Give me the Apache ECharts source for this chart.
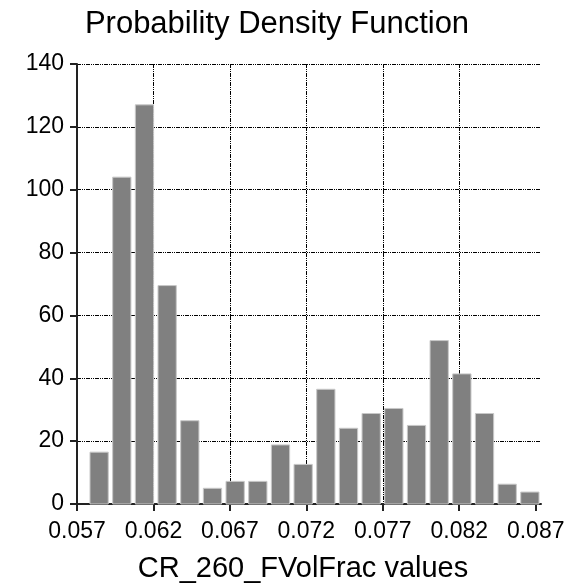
<!DOCTYPE html>
<html>
<head>
<meta charset="utf-8">
<script src="https://cdn.jsdelivr.net/npm/echarts@6/dist/echarts.min.js"></script>
<style>
  html, body { margin: 0; padding: 0; background: #fff; }
  #chart { width: 580px; height: 585px; }
</style>
</head>
<body>
<div id="chart"></div>
<script>
// Histogram data
const binStart = 0.057706;
const binWidth = 0.0014827;
const counts = [16.5, 104, 127, 69.5, 26.5, 5, 7.2, 7.2, 18.8, 12.6,
                36.5, 24.1, 28.8, 30.4, 25.0, 52.0, 41.4, 28.8, 6.3, 3.8];
const xTicks = [0.057, 0.062, 0.067, 0.072, 0.077, 0.082, 0.087];
const yTicks = [0, 20, 40, 60, 80, 100, 120, 140];
const xMin = 0.057, xMax = 0.087347;

const bins = counts.map((c, i) => [binStart + i * binWidth, binStart + (i + 1) * binWidth, c]);

const gridLine = { show: true, lineStyle: { color: '#000', width: 1, type: [4, 1, 1, 1, 1, 1] } };
const FONT = 'Liberation Sans, Arial, sans-serif';

const chart = echarts.init(document.getElementById('chart'), null, { renderer: 'canvas' });
chart.setOption({
  animation: false,
  backgroundColor: '#fff',
  title: {
    text: 'Probability Density Function',
    left: 272, textAlign: 'center', top: 4,
    textStyle: { fontFamily: FONT, fontSize: 31, fontWeight: 'normal', color: '#000' }
  },
  grid: { left: 77, right: 39, top: 64, bottom: 81, containLabel: false, outerBoundsMode: 'none' },
  xAxis: {
    type: 'value', min: xMin, max: xMax,
    name: 'CR_260_FVolFrac values', nameLocation: 'middle', nameGap: 50,
    nameTextStyle: { fontFamily: FONT, fontSize: 29, color: '#000', padding: [0, 12, 0, 0] },
    axisLine: { show: true, onZero: false, lineStyle: { color: '#222', width: 2 } },
    axisTick: { show: true, length: 7, lineStyle: { color: '#222', width: 2 }, customValues: xTicks },
    axisLabel: { fontFamily: FONT, fontSize: 23, color: '#000', margin: 16,
                 customValues: xTicks, formatter: v => v.toFixed(3) },
    splitLine: Object.assign({ showMaxLine: false }, gridLine)
  },
  yAxis: {
    type: 'value', min: 0, max: 140, interval: 20,
    axisLine: { show: true, lineStyle: { color: '#222', width: 2 } },
    axisTick: { show: true, length: 7, lineStyle: { color: '#222', width: 2 } },
    axisLabel: { fontFamily: FONT, fontSize: 23, color: '#000', margin: 13,
                 formatter: v => yTicks.includes(v) ? String(v) : '' },
    splitLine: gridLine
  },
  series: [{
    type: 'custom',
    data: bins,
    encode: { x: [0, 1], y: 2 },
    renderItem: function (params, api) {
      const p0 = api.coord([api.value(0), 0]);
      const p1 = api.coord([api.value(1), api.value(2)]);
      const gap = 2.2;
      return {
        type: 'rect',
        shape: { x: p0[0] + gap, y: p1[1], width: p1[0] - p0[0] - 2 * gap, height: p0[1] - p1[1] },
        style: { fill: '#808080', stroke: '#c8c8c8', lineWidth: 1 }
      };
    }
  }]
});
</script>
</body>
</html>
